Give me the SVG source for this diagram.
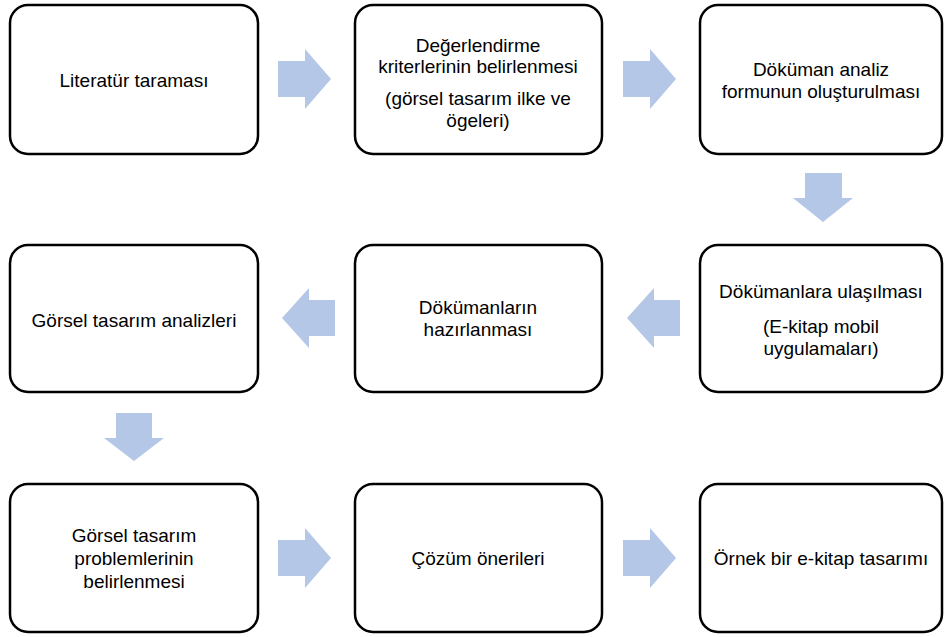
<svg xmlns="http://www.w3.org/2000/svg" width="944" height="637" viewBox="0 0 944 637">
<style>
.box{fill:#fff;stroke:#000;stroke-width:2.5}
.t{font-family:"Liberation Sans",Arial,sans-serif;font-size:19px;fill:#000;text-anchor:middle}
.arr{fill:#B4C7E7}
</style>
<rect width="944" height="637" fill="#fff"/>
<g id="connectors">
<polygon class="arr" points="278,61 305,61 305,49 331,79 305,109 305,97 278,97"/>
<polygon class="arr" points="623,61 650,61 650,49 676,79 650,109 650,97 623,97"/>
<polygon class="arr" points="805,173 842,173 842,198 853,198 823,222 793,198 805,198"/>
<polygon class="arr" points="680,300 654,300 654,288 627,318 654,348 654,336 680,336"/>
<polygon class="arr" points="335,300 309,300 309,288 282,318 309,348 309,336 335,336"/>
<polygon class="arr" points="116,413 152,413 152,438 164,438 134,461 104,438 116,438"/>
<polygon class="arr" points="278,540 305,540 305,528 331,558 305,588 305,576 278,576"/>
<polygon class="arr" points="623,540 650,540 650,528 676,558 650,588 650,576 623,576"/>
</g>
<g id="n1"><rect class="box" x="10" y="5" width="248" height="149" rx="18"/>
<text class="t" x="134" y="87">Literatür taraması</text></g>
<g id="n2"><rect class="box" x="355" y="5" width="247" height="149" rx="18"/>
<text class="t" x="478" y="52">Değerlendirme</text>
<text class="t" x="478" y="73">kriterlerinin belirlenmesi</text>
<text class="t" x="478" y="105">(görsel tasarım ilke ve</text>
<text class="t" x="478" y="127">ögeleri)</text></g>
<g id="n3"><rect class="box" x="700" y="5" width="242" height="149" rx="18"/>
<text class="t" x="821" y="76">Döküman analiz</text>
<text class="t" x="821" y="98">formunun oluşturulması</text></g>
<g id="n4"><rect class="box" x="700" y="245" width="242" height="147" rx="18"/>
<text class="t" x="821" y="298">Dökümanlara ulaşılması</text>
<text class="t" x="821" y="333">(E-kitap mobil</text>
<text class="t" x="821" y="355">uygulamaları)</text></g>
<g id="n5"><rect class="box" x="355" y="245" width="247" height="147" rx="18"/>
<text class="t" x="478" y="314">Dökümanların</text>
<text class="t" x="478" y="336">hazırlanması</text></g>
<g id="n6"><rect class="box" x="10" y="245" width="248" height="147" rx="18"/>
<text class="t" x="134" y="327">Görsel tasarım analizleri</text></g>
<g id="n7"><rect class="box" x="10" y="484" width="248" height="148" rx="18"/>
<text class="t" x="134" y="542">Görsel tasarım</text>
<text class="t" x="134" y="565">problemlerinin</text>
<text class="t" x="134" y="588">belirlenmesi</text></g>
<g id="n8"><rect class="box" x="355" y="484" width="247" height="148" rx="18"/>
<text class="t" x="478" y="565">Çözüm önerileri</text></g>
<g id="n9"><rect class="box" x="700" y="484" width="242" height="148" rx="18"/>
<text class="t" x="821" y="565">Örnek bir e-kitap tasarımı</text></g>
</svg>
